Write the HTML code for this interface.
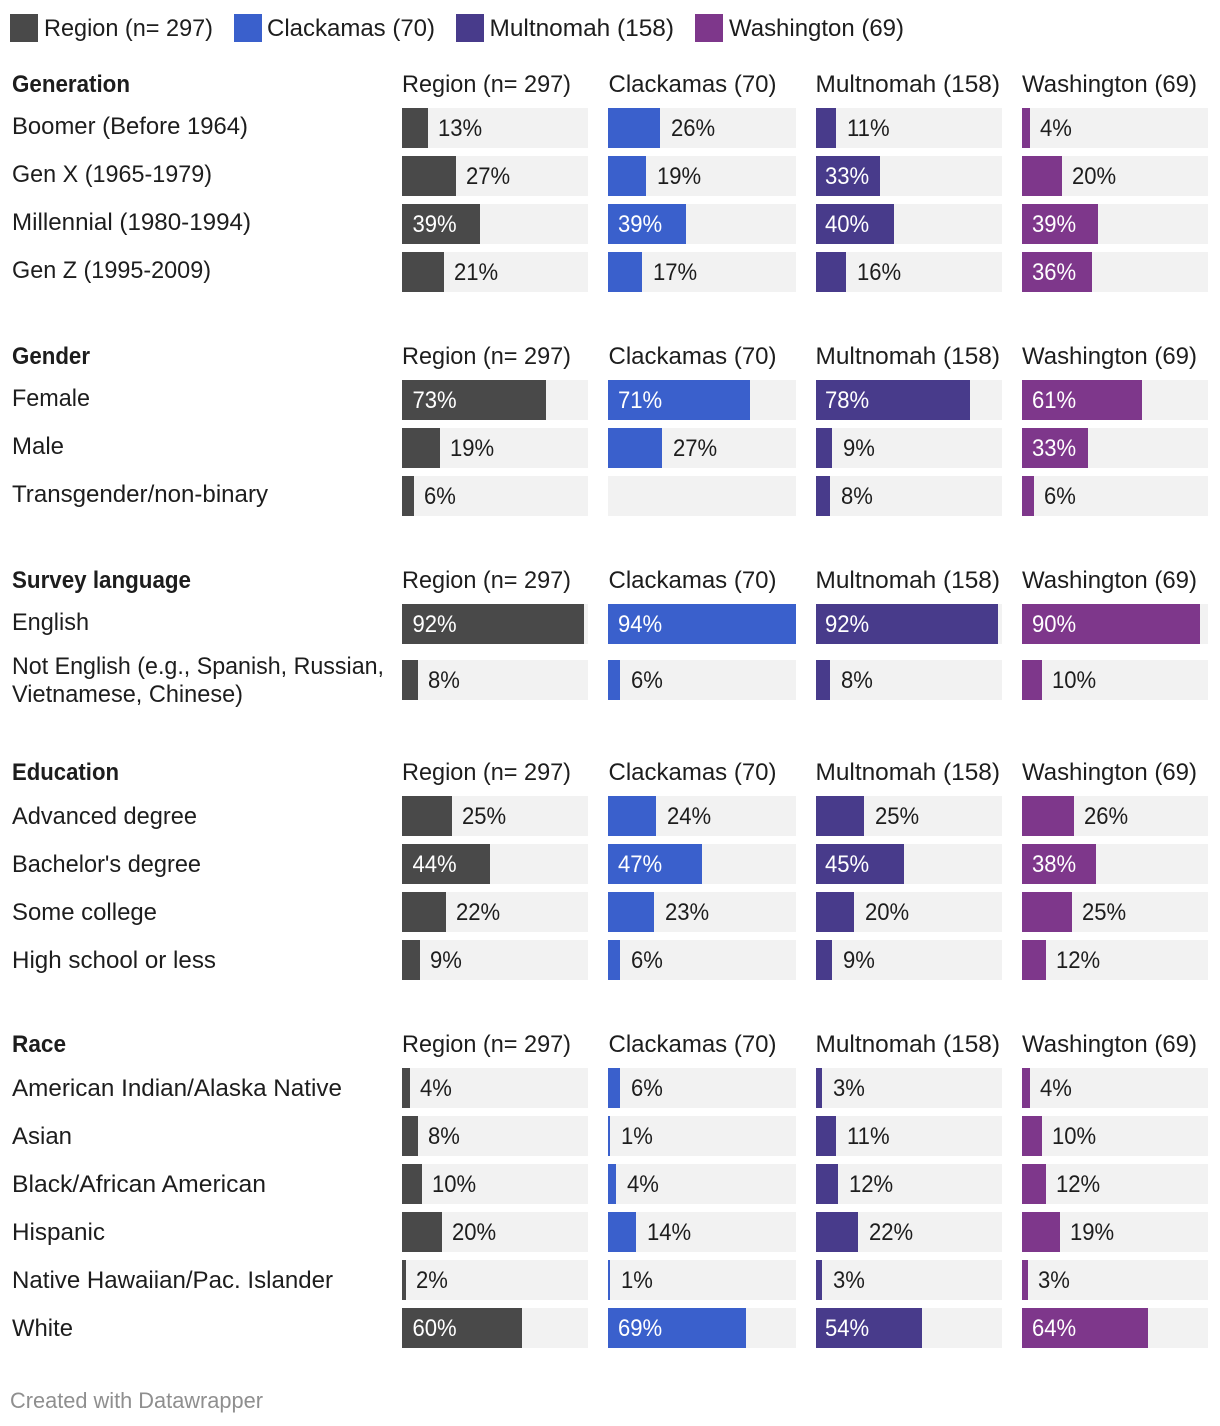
<!DOCTYPE html>
<html lang="en">
<head>
<meta charset="utf-8">
<title>Respondent demographics by county</title>
<style>
  html, body { margin: 0; padding: 0; background: #fff; }
  body { width: 1220px; height: 1426px; overflow: hidden; }
  svg { display: block; font-family: "Liberation Sans", sans-serif; }
  text { fill: #1d1d1d; font-size: 24px; }
</style>
</head>
<body>
<svg id="chart" xmlns="http://www.w3.org/2000/svg" width="1220" height="1426" viewBox="0 0 1220 1426"></svg>
<script>
// ---- Chart data ----
const seriesNames = ["Region (n= 297)", "Clackamas (70)", "Multnomah (158)", "Washington (69)"];
const sectionTitles = ["Generation", "Gender", "Survey language", "Education", "Race"];

const generationCategories = ["Boomer (Before 1964)", "Gen X (1965-1979)", "Millennial (1980-1994)", "Gen Z (1995-2009)"];
const generationRegion = [13, 27, 39, 21];
const generationClackamas = [26, 19, 39, 17];
const generationMultnomah = [11, 33, 40, 16];
const generationWashington = [4, 20, 39, 36];

const genderCategories = ["Female", "Male", "Transgender/non-binary"];
const genderRegion = [73, 19, 6];
const genderClackamas = [71, 27, null];
const genderMultnomah = [78, 9, 8];
const genderWashington = [61, 33, 6];

const languageCategories = ["English", "Not English (e.g., Spanish, Russian,\nVietnamese, Chinese)"];
const languageRegion = [92, 8];
const languageClackamas = [94, 6];
const languageMultnomah = [92, 8];
const languageWashington = [90, 10];

const educationCategories = ["Advanced degree", "Bachelor's degree", "Some college", "High school or less"];
const educationRegion = [25, 44, 22, 9];
const educationClackamas = [24, 47, 23, 6];
const educationMultnomah = [25, 45, 20, 9];
const educationWashington = [26, 38, 25, 12];

const raceCategories = ["American Indian/Alaska Native", "Asian", "Black/African American", "Hispanic", "Native Hawaiian/Pac. Islander", "White"];
const raceRegion = [4, 8, 10, 20, 2, 60];
const raceClackamas = [6, 1, 4, 14, 1, 69];
const raceMultnomah = [3, 11, 12, 22, 3, 54];
const raceWashington = [4, 10, 12, 19, 3, 64];

const domainMax = 94;

// ---- Layout and style ----
const sections = [
  { cats: generationCategories, vals: [generationRegion, generationClackamas, generationMultnomah, generationWashington], shift: -2 },
  { cats: genderCategories, vals: [genderRegion, genderClackamas, genderMultnomah, genderWashington], shift: -2 },
  { cats: languageCategories, vals: [languageRegion, languageClackamas, languageMultnomah, languageWashington], shift: -2 },
  { cats: educationCategories, vals: [educationRegion, educationClackamas, educationMultnomah, educationWashington], shift: 0 },
  { cats: raceCategories, vals: [raceRegion, raceClackamas, raceMultnomah, raceWashington], shift: 0 }
];
const columnLayout = [
  { x: 402, w: 186, bias: 0.5, inPad: 10.5, outPad: 10 },
  { x: 608, w: 188, bias: 0, inPad: 10, outPad: 11 },
  { x: 816, w: 186, bias: -0.9, inPad: 9, outPad: 11 },
  { x: 1022, w: 186, bias: -0.25, inPad: 10, outPad: 10 }
];
const seriesColors = ["#494949", "#3a60cc", "#483b8b", "#7e378b"];
const legendLayout = [
  { swatch: 10, text: 44, len: 169 },
  { swatch: 234, text: 267, len: 168 },
  { swatch: 456, text: 489.5, len: 184.5 },
  { swatch: 695, text: 729, len: 175 }
];
const headerLayout = [
  { x: 402, len: 169 },
  { x: 608.5, len: 168 },
  { x: 815.5, len: 184.5 },
  { x: 1022, len: 175 }
];
const titleLengths = { "Generation": 118, "Gender": 78, "Survey language": 179, "Education": 107, "Race": 54 };
const labelLengths = {
  "Boomer (Before 1964)": 236, "Gen X (1965-1979)": 200, "Millennial (1980-1994)": 239, "Gen Z (1995-2009)": 199,
  "Female": 78, "Male": 52, "Transgender/non-binary": 256, "English": 77,
  "Not English (e.g., Spanish, Russian,": 372, "Vietnamese, Chinese)": 231,
  "Advanced degree": 185, "Bachelor's degree": 189, "Some college": 145, "High school or less": 204,
  "American Indian/Alaska Native": 330, "Asian": 60, "Black/African American": 254, "Hispanic": 93,
  "Native Hawaiian/Pac. Islander": 321, "White": 61
};

const svg = document.getElementById('chart');
const NS = 'http://www.w3.org/2000/svg';

function xWidth(value, column) {
  const raw = value / domainMax * column.w + column.bias;
  return Math.round(raw / 2) * 2;
}

function addText(parent, str, x, y, len, opts) {
  const t = document.createElementNS(NS, 'text');
  t.setAttribute('x', x);
  t.setAttribute('y', y);
  t.textContent = str;
  if (len) {
    t.setAttribute('textLength', len);
    t.setAttribute('lengthAdjust', 'spacingAndGlyphs');
  }
  if (opts && opts.weight) t.setAttribute('font-weight', opts.weight);
  if (opts && opts.fill) t.style.fill = opts.fill;
  if (opts && opts.size) t.style.fontSize = opts.size + 'px';
  parent.appendChild(t);
  return t;
}

function addRect(parent, x, y, w, h, fill) {
  const r = document.createElementNS(NS, 'rect');
  r.setAttribute('x', x);
  r.setAttribute('y', y);
  r.setAttribute('width', w);
  r.setAttribute('height', h);
  r.setAttribute('fill', fill);
  parent.appendChild(r);
  return r;
}

function slug(s) {
  return s.toLowerCase().replace(/[^a-z0-9]+/g, '-').replace(/^-|-$/g, '');
}

// Legend
const legendGroup = document.createElementNS(NS, 'g');


svg.appendChild(legendGroup);
seriesNames.forEach(function (name, i) {
  const swatch = addRect(legendGroup, legendLayout[i].swatch, 14, 28, 28, seriesColors[i]);
  
  
  const label = addText(legendGroup, name, legendLayout[i].text, 36, legendLayout[i].len);
  
  
});

// Sections
let cursor = 76;
sections.forEach(function (section, s) {
  const group = document.createElementNS(NS, 'g');
  
  
  svg.appendChild(group);

  const headerCenter = cursor + 8;
  const title = addText(group, sectionTitles[s], 12, headerCenter + 8, titleLengths[sectionTitles[s]], { weight: 'bold' });
  
  

  seriesNames.forEach(function (name, c) {
    const head = addText(group, name, headerLayout[c].x, headerCenter + 8, headerLayout[c].len);
    
    
  });

  let y = cursor + 32;
  section.cats.forEach(function (cat, r) {
    const lines = cat.split('\n');
    const rowH = lines.length > 1 ? 56 : 40;
    const barY = y + (rowH - 40) / 2;

    if (lines.length > 1) {
      lines.forEach(function (line, l) {
        const lineText = addText(group, line, 12, y + 22 + l * 28, labelLengths[line]);
        
        
      });
    } else {
      const rowLabel = addText(group, cat, 12, y + 28 + section.shift, labelLengths[cat]);
      
      
    }

    section.vals.forEach(function (series, c) {
      const col = columnLayout[c];
      const track = addRect(group, col.x, barY, col.w, 40, '#f2f2f2');
      
      

      const value = series[r];
      if (value === null) return;
      const w = xWidth(value, col);
      const bar = addRect(group, col.x, barY, w, 40, seriesColors[c]);
      
      

      const inside = value >= 30;
      const valText = addText(group, Math.round(value) + '%', inside ? col.x + col.inPad : col.x + w + col.outPad, barY + 28, null, inside ? { fill: '#ffffff' } : null);
      
      
      valText.setAttribute('textLength', (valText.getComputedTextLength() * 0.92).toFixed(1));
      valText.setAttribute('lengthAdjust', 'spacingAndGlyphs');
    });

    y += rowH + 8;
  });

  cursor = y - 8 + 88 - 32;
});

// Footer
const footer = addText(svg, 'Created with Datawrapper', 10, 1408, 253, { fill: '#8f8f8f', size: 22 });


</script>
</body>
</html>
